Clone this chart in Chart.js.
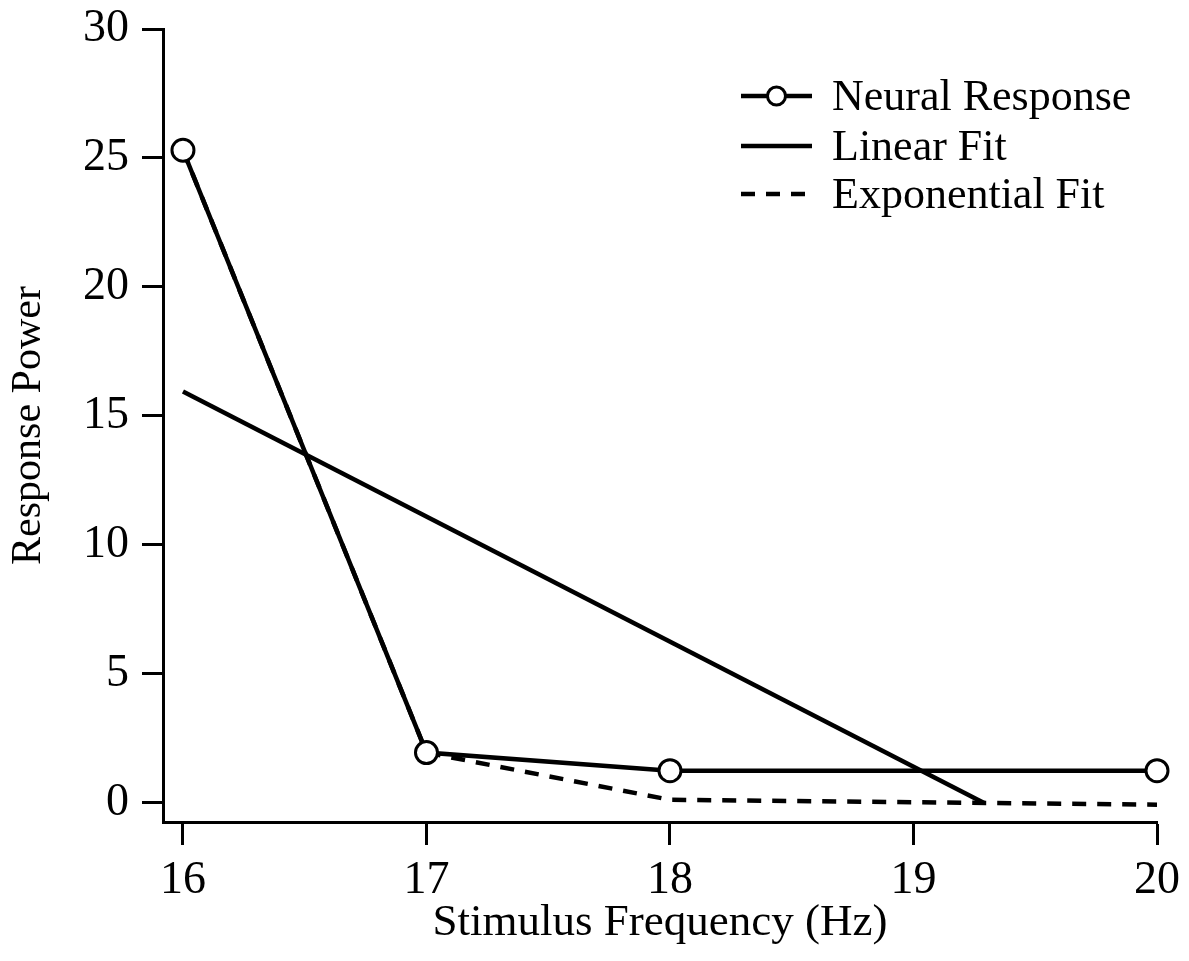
<!DOCTYPE html>
<html>
<head>
<meta charset="utf-8">
<script src="https://cdn.jsdelivr.net/npm/chart.js@4/dist/chart.umd.min.js"></script>
<style>
  html, body { margin: 0; padding: 0; background: #fff; }
  #wrap { width: 1189px; height: 961px; }
</style>
</head>
<body>
<div id="wrap"><canvas id="myChart" width="1189" height="961"></canvas></div>
<script>
// values
const neuralX = [16, 17, 18, 20];
const neuralY = [25.3, 1.95, 1.25, 1.25];

const linearX = [16, 19.29];
const linearY = [15.95, 0];

const expX = [16, 17, 18, 20];
const expY = [25.3, 1.95, 0.12, -0.07];

const xTicks = [16, 17, 18, 19, 20];
const yTicks = [0, 5, 10, 15, 20, 25, 30];

const seriesNames = ["Neural Response", "Linear Fit", "Exponential Fit"];

const FONT = "'Liberation Serif', 'Times New Roman', serif";

const toPoints = (xs, ys) => xs.map((x, i) => ({ x: x, y: ys[i] }));

// hand drawn legend, top right
const legendPlugin = {
  id: "sketchLegend",
  afterDraw(chart) {
    const ctx = chart.ctx;
    const x0 = 741, x1 = 812, textX = 832;
    const rows = [96, 146, 194];
    ctx.save();
    chart.data.datasets.forEach((ds, i) => {
      const y = rows[i];
      ctx.strokeStyle = "#000";
      ctx.lineWidth = ds.borderWidth;
      ctx.setLineDash(ds.borderDash || []);
      ctx.beginPath();
      ctx.moveTo(x0, y);
      ctx.lineTo(x1, y);
      ctx.stroke();
      ctx.setLineDash([]);
      if (ds.pointRadius > 0) {
        ctx.beginPath();
        ctx.arc((x0 + x1) / 2, y, 9, 0, Math.PI * 2);
        ctx.fillStyle = "#fff";
        ctx.fill();
        ctx.lineWidth = 3;
        ctx.stroke();
      }
      ctx.fillStyle = "#000";
      ctx.font = "44px " + FONT;
      ctx.textBaseline = "middle";
      ctx.textAlign = "left";
      ctx.fillText(ds.label, textX, y + 2);
    });
    ctx.restore();
  }
};

const config = {
  type: "line",
  data: {
    datasets: [
      {
        label: seriesNames[0],
        data: toPoints(neuralX, neuralY),
        borderColor: "#000",
        borderWidth: 4.5,
        pointRadius: 11,
        pointBorderWidth: 3,
        pointBackgroundColor: "#fff",
        pointBorderColor: "#000",
        tension: 0
      },
      {
        label: seriesNames[1],
        data: toPoints(linearX, linearY),
        borderColor: "#000",
        borderWidth: 4.5,
        pointRadius: 0,
        tension: 0
      },
      {
        label: seriesNames[2],
        data: toPoints(expX, expY),
        borderColor: "#000",
        borderWidth: 4.5,
        borderDash: [14, 11],
        pointRadius: 0,
        tension: 0
      }
    ]
  },
  options: {
    responsive: false,
    animation: false,
    clip: false,
    layout: { padding: { top: 29, right: 32, left: 0, bottom: 0 } },
    plugins: {
      legend: { display: false },
      tooltip: { enabled: false }
    },
    scales: {
      x: {
        type: "linear",
        min: 15.918,
        max: 20,
        afterBuildTicks: (scale) => { scale.ticks = xTicks.map((v) => ({ value: v })); },
        afterFit: (scale) => { scale.height = 139; },
        border: { display: true, color: "#000", width: 3 },
        grid: {
          display: true,
          drawOnChartArea: false,
          drawTicks: true,
          tickLength: 23,
          tickWidth: 3,
          tickColor: "#000"
        },
        ticks: {
          color: "#000",
          font: { family: FONT, size: 46 },
          padding: 8,
          maxRotation: 0
        },
        title: {
          display: true,
          text: "Stimulus Frequency (Hz)",
          color: "#000",
          font: { family: FONT, size: 45 },
          padding: { top: 0, bottom: 11 }
        }
      },
      y: {
        type: "linear",
        min: -0.74,
        max: 30,
        afterBuildTicks: (scale) => { scale.ticks = yTicks.map((v) => ({ value: v })); },
        afterFit: (scale) => { scale.width = 163; },
        border: { display: true, color: "#000", width: 3 },
        grid: {
          display: true,
          drawOnChartArea: false,
          drawTicks: true,
          tickLength: 21,
          tickWidth: 3,
          tickColor: "#000"
        },
        ticks: {
          color: "#000",
          font: { family: FONT, size: 46, lineHeight: 0.6 },
          padding: 13
        },
        title: {
          display: true,
          text: "Response Power",
          color: "#000",
          font: { family: FONT, size: 42 },
          padding: { top: 4, bottom: 0 }
        }
      }
    }
  },
  plugins: [legendPlugin]
};

window.onload = () => {
  const myChart = new Chart(document.getElementById("myChart"), config);
};
</script>
</body>
</html>
